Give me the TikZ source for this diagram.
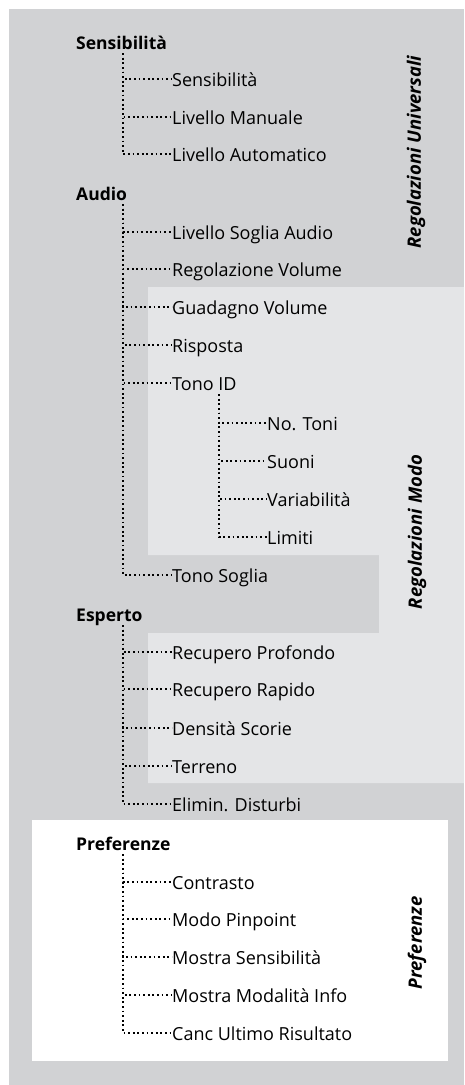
\documentclass[tikz,border=0pt]{standalone}
\usepackage{fontspec}
\setmainfont{Open Sans}
\usetikzlibrary{positioning,calc}
\definecolor{panelgrey}{HTML}{D1D2D4}
\definecolor{panellight}{HTML}{E4E5E7}

\begin{document}
\begin{tikzpicture}[x=1pt,y=-1pt]
\tikzstyle{head}=[anchor=west,inner sep=0pt,font=\fontsize{17.5}{20}\selectfont\bfseries,text height=14pt,text depth=0pt]
\tikzstyle{item}=[anchor=west,inner sep=0pt,font=\fontsize{18}{20}\selectfont,text height=14pt,text depth=0pt]
\tikzstyle{side}=[rotate=90,inner sep=0pt,font=\fontsize{18.5}{20}\selectfont\bfseries\itshape]
\tikzstyle{tree}=[line width=1.8pt,dash pattern=on 1.8pt off 2.8pt]
\useasboundingbox (0,0) rectangle (464,1085);
\fill[panelgrey] (9,9) rectangle (464,1085);
\fill[panellight] (148,287) -- (464,287) -- (464,783) -- (148,783) -- (148,633)
  -- (379,633) -- (379,555) -- (148,555) -- cycle;
\fill[white] (32,820) rectangle (448,1061);
\node[side] (univ) at (416,152) {Regolazioni Universali};
\node[side] (modo) at (417,532) {Regolazioni Modo};
\node[side] (pref) at (417,943) {Preferenze};
\node[head] (sens) at (76,42) {Sensibilità};
\node[item] (sens1) at (172,79) {Sensibilità};
\node[item] (sens2) at (172,117) {Livello Manuale};
\node[item] (sens3) at (172,154) {Livello Automatico};
\node[head] (audio) at (76,193) {Audio};
\node[item] (audio1) at (172,232) {Livello Soglia Audio};
\node[item] (audio2) at (172,269) {Regolazione Volume};
\node[item] (audio3) at (172,307) {Guadagno Volume};
\node[item] (audio4) at (172,345) {Risposta};
\node[item] (tonoid) at (172,383) {Tono ID};
\node[item] (tono1) at (267,423) {No. Toni};
\node[item] (tono2) at (267,461) {Suoni};
\node[item] (tono3) at (267,499) {Variabilità};
\node[item] (tono4) at (267,537) {Limiti};
\node[item] (audio5) at (172,575) {Tono Soglia};
\node[head] (esp) at (76,614) {Esperto};
\node[item] (esp1) at (172,652) {Recupero Profondo};
\node[item] (esp2) at (172,689) {Recupero Rapido};
\node[item] (esp3) at (172,728) {Densità Scorie};
\node[item] (esp4) at (172,766) {Terreno};
\node[item] (esp5) at (172,804) {Elimin. Disturbi};
\node[head] (prefh) at (76,843) {Preferenze};
\node[item] (pref1) at (172,882) {Contrasto};
\node[item] (pref2) at (172,919) {Modo Pinpoint};
\node[item] (pref3) at (172,957) {Mostra Sensibilità};
\node[item] (pref4) at (172,995) {Mostra Modalità Info};
\node[item] (pref5) at (172,1033) {Canc Ultimo Risultato};
\foreach \c in {sens1,sens2,sens3}
  \draw[tree] ([shift={(47pt,-4pt)}]sens.south west) |- (\c.west);
\foreach \c in {audio1,audio2,audio3,audio4,tonoid,audio5}
  \draw[tree] ([shift={(47pt,-4pt)}]audio.south west) |- (\c.west);
\foreach \c in {tono1,tono2,tono3,tono4}
  \draw[tree] ([shift={(47pt,-4pt)}]tonoid.south west) |- (\c.west);
\foreach \c in {esp1,esp2,esp3,esp4,esp5}
  \draw[tree] ([shift={(47pt,-4pt)}]esp.south west) |- (\c.west);
\foreach \c in {pref1,pref2,pref3,pref4,pref5}
  \draw[tree] ([shift={(47pt,-4pt)}]prefh.south west) |- (\c.west);
\end{tikzpicture}
\end{document}
